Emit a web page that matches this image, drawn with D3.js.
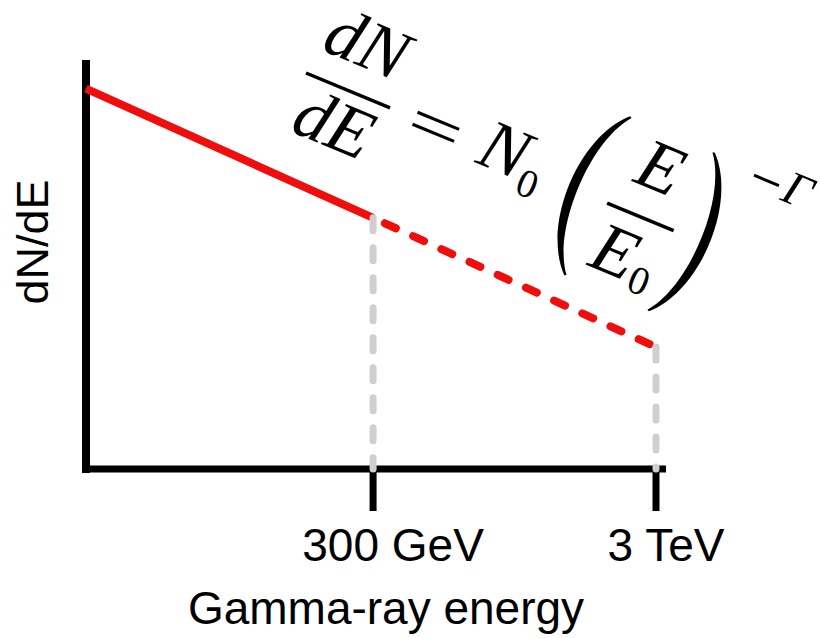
<!DOCTYPE html>
<html>
<head>
<meta charset="utf-8">
<script src="https://cdn.jsdelivr.net/npm/d3@7"></script>
<style>
  html, body { margin: 0; padding: 0; background: #fff; }
  svg { display: block; }
</style>
</head>
<body>
<svg id="chart" width="820" height="638"></svg>
<script>
// ---------- data ----------
const energies      = [29, 300, 3000];        // GeV (schematic energies)
const fluxValues    = [9.3, 6.14, 2.98];      // dN/dE, arbitrary units
const measuredIdx   = [0, 1];                 // solid (measured) part
const extrapIdx     = [1, 2];                 // dashed (extrapolated) part
const tickEnergies  = [300, 3000];
const tickLabels    = ["300 GeV", "3 TeV"];
const xAxisTitle    = "Gamma-ray energy";
const yAxisTitle    = "dN/dE";

// ---------- setup ----------
const svg = d3.select("#chart");
const x = d3.scaleLog().domain([29, 3000]).range([86, 656]);
const y = d3.scaleLinear().domain([0, 10]).range([469, 60]);

const RED = "#f20d0d", GREY = "#cfcfcf";
const sans = "'Liberation Sans', Arial, Helvetica, sans-serif";
const serif = "'Liberation Serif', 'Times New Roman', serif";

// ---------- axes ----------
const x0 = x.range()[0], x1 = x.range()[1];
const yb = y.range()[0], yt = y.range()[1];
svg.append("line").attr("x1", x0).attr("x2", x0).attr("y1", yt).attr("y2", yb + 4)
  .attr("stroke", "#000").attr("stroke-width", 8);
svg.append("line").attr("x1", x0 - 4).attr("x2", x1 + 10).attr("y1", yb).attr("y2", yb)
  .attr("stroke", "#000").attr("stroke-width", 7);
svg.selectAll("line.tick").data(tickEnergies).enter().append("line")
  .attr("class", "tick")
  .attr("x1", d => x(d)).attr("x2", d => x(d))
  .attr("y1", yb).attr("y2", yb + 42)
  .attr("stroke", "#000").attr("stroke-width", 7);
const labelDx = [20, 10];
svg.selectAll("text.tl").data(tickLabels).enter().append("text")
  .attr("class", "tl")
  .attr("x", (d, i) => x(tickEnergies[i]) + labelDx[i])
  .attr("y", 561)
  .attr("text-anchor", "middle")
  .attr("font-family", sans).attr("font-size", 46)
  .text(d => d);
svg.append("text").attr("x", 386).attr("y", 624).attr("text-anchor", "middle")
  .attr("font-family", sans).attr("font-size", 46).text(xAxisTitle);
svg.append("text").attr("transform", "translate(48,242) rotate(-90)")
  .attr("text-anchor", "middle")
  .attr("font-family", sans).attr("font-size", 45).text(yAxisTitle);

// ---------- spectrum ----------
const line = d3.line().x(i => x(energies[i])).y(i => y(fluxValues[i]));
svg.append("path").attr("d", line(measuredIdx))
  .attr("fill", "none").attr("stroke", RED).attr("stroke-width", 8);
svg.append("path").attr("d", line(extrapIdx))
  .attr("fill", "none").attr("stroke", RED).attr("stroke-width", 8)
  .attr("stroke-linecap", "round")
  .attr("stroke-dasharray", "12,19").attr("stroke-dashoffset", 18);

svg.selectAll("line.drop").data([1, 2]).enter().append("line")
  .attr("class", "drop")
  .attr("x1", i => x(energies[i])).attr("x2", i => x(energies[i]))
  .attr("y1", i => y(fluxValues[i])).attr("y2", yb)
  .attr("stroke", GREY).attr("stroke-width", 7)
  .attr("stroke-linecap", "round").attr("stroke-dasharray", "13,17");

// ---------- formula dN/dE = N0 (E/E0)^-Γ ----------
const F = 71, FS = 40, FSUP = 48;
const g = svg.append("g").attr("transform", "translate(306,73) rotate(22.5)");
function t(txt, u, v, size, italic, anchor) {
  g.append("text").attr("x", u).attr("y", v)
    .attr("font-family", serif).attr("font-size", size)
    .attr("font-style", italic ? "italic" : "normal")
    .attr("text-anchor", anchor || "middle").text(txt);
}
function bar(u1, u2, v, w) {
  g.append("line").attr("x1", u1).attr("x2", u2).attr("y1", v).attr("y2", v)
    .attr("stroke", "#000").attr("stroke-width", w || 3.5);
}
function paren(ue, vt, vb, dir) {
  const h = vb - vt, dO = 30 * 1.333, dI = 21 * 1.333;
  const p = d3.path();
  p.moveTo(ue, vt);
  p.bezierCurveTo(ue + dir * dO, vt + h * 0.22, ue + dir * dO, vb - h * 0.22, ue, vb);
  p.lineTo(ue - dir * 2, vb - 1);
  p.bezierCurveTo(ue + dir * dI, vb - h * 0.22, ue + dir * dI, vt + h * 0.22, ue - dir * 2, vt + 1);
  p.closePath();
  g.append("path").attr("d", p.toString()).attr("fill", "#000");
}
bar(0, 91, 0);
t("dN", 45.5, -27, F, true);
t("dE", 45.5, 60, F, true);
bar(118, 163, -6.5, 3.2);
bar(118, 163, 6.5, 3.2);
t("N", 213, 18, F, true);
t("0", 247, 31, FS, false);
paren(316, -84, 88, -1);
bar(328, 400, 5);
t("E", 364, -25, F, true);
t("E", 354, 70, F, true);
t("0", 387, 78, FS, false);
paren(408, -83, 89, 1);
bar(453, 480, -77, 3);
t("\u0393", 499, -64, FSUP, true);
</script>
</body>
</html>
